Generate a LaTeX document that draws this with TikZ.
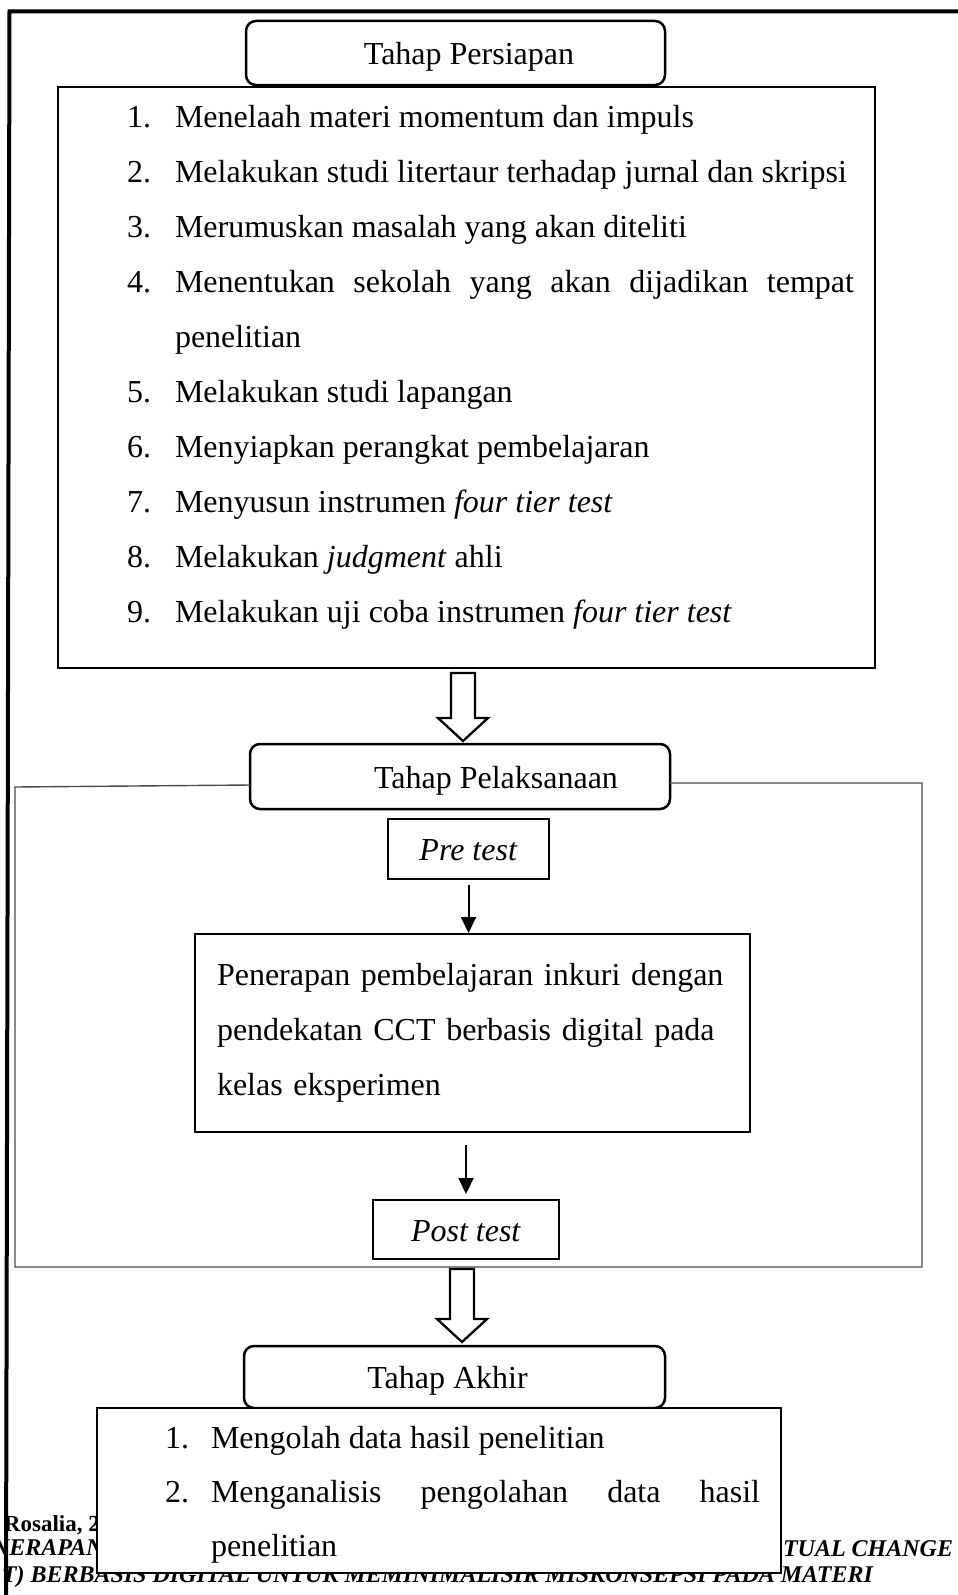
\documentclass[tikz,border=0pt]{standalone}
\usepackage{fontspec}
\setmainfont{Liberation Serif}
\usetikzlibrary{arrows.meta}
\begin{document}
\begin{tikzpicture}[x=1pt,y=-1pt,
  every node/.style={font=\fontsize{32}{38}\selectfont, inner sep=0pt, outer sep=0pt},
  rbox/.style={draw, line width=2.5pt, rounded corners=10pt, fill=white, text height=25pt, text depth=2pt},
  sbox/.style={draw, line width=2.5pt, fill=white},
  txt/.style={anchor=base west},
  footb/.style={anchor=base west, font=\fontsize{23}{27}\selectfont\bfseries},
  footbi/.style={anchor=base west, font=\fontsize{24}{27}\selectfont\bfseries\itshape},
  thinarrow/.style={line width=2pt, -{Triangle[length=16pt,width=15pt]}},
  blockarr/.style={draw, line width=2.3pt, fill=white, line join=miter},
  frametwo/.style={draw=black!70, line width=1.4pt},
  outerframe/.style={line width=4pt}
]
\useasboundingbox (0,0) rectangle (958,1595);

% footer text (partly hidden)
\node[footb] (f1) at (4,1531) {Rosalia, 2};
\node[footbi] (f2) at (-8,1555) {NERAPAN};
\node[footbi] (f3) at (783,1556) {TUAL CHANGE};
\node[footbi, anchor=base east] (f4) at (873,1582) {T) BERBASIS DIGITAL UNTUK MEMINIMALISIR MISKONSEPSI PADA MATERI};

% outer frame
\draw[outerframe] (6,1595) -- (9.5,11.5) -- (958,11.5);

% Tahap Persiapan
\node[rbox, minimum width=419pt, minimum height=64pt] (ps) at (455.5,53) {\hspace*{27pt}Tahap Persiapan};
\node[sbox, minimum width=817pt, minimum height=581pt] (b1) at (466.5,377.5) {};

\node[txt] (n1) at (127,127) {1.};
\node[txt] (t1) at (175,127) {Menelaah materi momentum dan impuls};
\node[txt] (n2) at (127,182) {2.};
\node[txt] (t2) at (175,182) {Melakukan studi litertaur terhadap jurnal dan skripsi};
\node[txt] (n3) at (127,237) {3.};
\node[txt] (t3) at (175,237) {Merumuskan masalah yang akan diteliti};
\node[txt] (n4) at (127,292) {4.};
\node[txt] (t4) at (175,292) {\makebox[679pt][s]{Menentukan sekolah yang akan dijadikan tempat}};
\node[txt] (t4b) at (175,347) {penelitian};
\node[txt] (n5) at (127,402) {5.};
\node[txt] (t5) at (175,402) {Melakukan studi lapangan};
\node[txt] (n6) at (127,457) {6.};
\node[txt] (t6) at (175,457) {Menyiapkan perangkat pembelajaran};
\node[txt] (n7) at (127,512) {7.};
\node[txt] (t7) at (175,512) {Menyusun instrumen \textit{four tier test}};
\node[txt] (n8) at (127,567) {8.};
\node[txt] (t8) at (175,567) {Melakukan \textit{judgment} ahli};
\node[txt] (n9) at (127,622) {9.};
\node[txt] (t9) at (175,622) {Melakukan uji coba instrumen \textit{four tier test}};

% Tahap Pelaksanaan
\node[rbox, minimum width=420pt, minimum height=65pt] (pel) at (460,776.5) {\hspace*{72pt}Tahap Pelaksanaan};

% block arrow 1
\draw[blockarr] (b1.south) ++(-15.5,5) -- ++(0,45) -- ++(-13,0) -- ++(25,23) -- ++(25,-23) -- ++(-13,0) -- ++(0,-45) -- cycle;

% frame of the execution stage
\draw[frametwo] ([yshift=-8.5pt]pel.west) -- (15,787) -- (15,1267) -- (922,1267) -- (922,783) -- ([yshift=-6.5pt]pel.east);

\node[sbox, minimum width=161pt, minimum height=60pt, text height=25pt, text depth=2pt] (pre) at (468.5,849) {\textit{Pre test}};

\node[sbox, minimum width=555pt, minimum height=198pt, text width=511pt, align=left, font=\fontsize{32}{55}\selectfont] (pen) at (472.5,1033)
  {\makebox[503pt][s]{Penerapan pembelajaran inkuri dengan}\\
   \makebox[503pt][s]{pendekatan CCT berbasis digital pada}\\
   kelas eksperimen};

\node[sbox, minimum width=186pt, minimum height=59pt, text height=25pt, text depth=2pt] (post) at (466,1229.5) {\textit{Post test}};

\draw[thinarrow, shorten <=6pt, shorten >=1pt] (pre.south) -- (pre.south |- pen.north);
\draw[thinarrow, shorten <=13pt, shorten >=6pt] (pen.south -| post.north) -- (post.north);

% Tahap Akhir
\node[rbox, minimum width=421pt, minimum height=62pt] (ak) at (454.5,1377) {Tahap Akhir\hspace*{14pt}};

% block arrow 2
\draw[blockarr] (post.south) ++(-16,10) -- ++(0,50) -- ++(-13,0) -- ++(25,23) -- ++(25,-23) -- ++(-13,0) -- ++(0,-50) -- cycle;

\node[sbox, minimum width=684pt, minimum height=165pt] (b3) at (439,1490.5) {};
\node[txt] (m1) at (165,1448) {1.};
\node[txt] (u1) at (211,1448) {Mengolah data hasil penelitian};
\node[txt] (m2) at (165,1502) {2.};
\node[txt] (u2) at (211,1502) {\makebox[549pt][s]{Menganalisis pengolahan data hasil}};
\node[txt] (u2b) at (211,1556) {penelitian};
\end{tikzpicture}
\end{document}
